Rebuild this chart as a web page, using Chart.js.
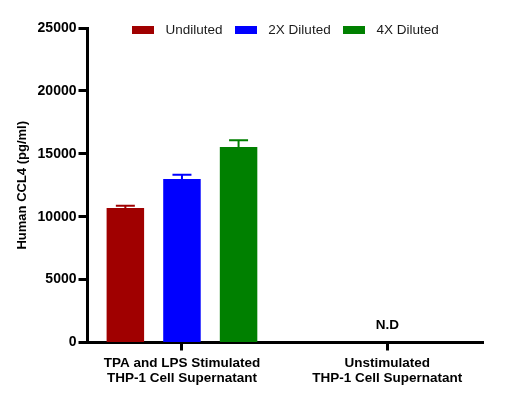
<!DOCTYPE html>
<html>
<head>
<meta charset="utf-8">
<script src="https://cdn.jsdelivr.net/npm/chart.js@4"></script>
<style>
  html, body { margin: 0; padding: 0; background: #fff; }
  #wrap { width: 528px; height: 410px; position: relative; }
</style>
</head>
<body>
<div id="wrap"><canvas id="c" width="528" height="410"></canvas></div>
<script>
// ---- data ----
const categories = [
  ['TPA and LPS Stimulated', 'THP-1 Cell Supernatant'],
  ['Unstimulated', 'THP-1 Cell Supernatant']
];
const seriesNames = ['Undiluted', '2X Diluted', '4X Diluted'];
const undiluted = [10700, null];
const diluted2x = [13000, null];
const diluted4x = [15550, null];
const undilutedErr = [170, null];
const diluted2xErr = [340, null];
const diluted4xErr = [520, null];
const yMin = 0, yMax = 25000, yStep = 5000;
const yTitle = 'Human CCL4 (pg/ml)';
const notDetectedText = 'N.D';
const notDetectedCategory = 1;

const colors = ['#a00000', '#0000ff', '#008000'];
const FONT = "'Liberation Sans', Arial, sans-serif";

function swatch(color) {
  const c = document.createElement('canvas');
  c.width = 22; c.height = 8;
  const g = c.getContext('2d');
  g.fillStyle = color; g.fillRect(0, 0, 22, 8);
  return c;
}
const swatches = colors.map(swatch);

const errorBars = {
  id: 'errorBars',
  afterDatasetsDraw(chart) {
    const ctx = chart.ctx;
    const ys = chart.scales.y;
    chart.data.datasets.forEach((ds, di) => {
      const meta = chart.getDatasetMeta(di);
      meta.data.forEach((bar, i) => {
        const v = ds.data[i], e = ds.errors[i];
        if (v == null || e == null) return;
        const yTop = ys.getPixelForValue(v + e);
        ctx.save();
        ctx.strokeStyle = ds.backgroundColor;
        ctx.lineWidth = 2;
        ctx.beginPath();
        ctx.moveTo(bar.x, bar.y);
        ctx.lineTo(bar.x, yTop);
        ctx.moveTo(bar.x - 9.5, yTop);
        ctx.lineTo(bar.x + 9.5, yTop);
        ctx.stroke();
        ctx.restore();
      });
    });
  }
};

const ndPlugin = {
  id: 'ndLabel',
  afterDraw(chart) {
    const ctx = chart.ctx;
    ctx.save();
    ctx.font = 'bold 13.5px ' + FONT;
    ctx.fillStyle = '#000';
    ctx.textAlign = 'center';
    ctx.textBaseline = 'middle';
    ctx.fillText(notDetectedText, chart.scales.x.getPixelForValue(notDetectedCategory),
                 chart.scales.y.getPixelForValue(0) - 17);
    ctx.restore();
  }
};

const legendFix = {
  id: 'legendFix',
  afterInit(chart) {
    const lg = chart.legend;
    if (!lg) return;
    const f = lg.fit;
    lg.fit = function () { f.call(this); this.height = 0; };
  },
  afterLayout(chart) {
    const lg = chart.legend;
    if (lg) {
      lg.top = 15.5; lg.bottom = 48; lg.height = 32.5;
      lg.left -= 2; lg.right -= 2;
    }
  }
};

new Chart(document.getElementById('c'), {
  type: 'bar',
  data: {
    labels: categories,
    datasets: [
      { label: seriesNames[0], data: undiluted, errors: undilutedErr, backgroundColor: colors[0] },
      { label: seriesNames[1], data: diluted2x, errors: diluted2xErr, backgroundColor: colors[1] },
      { label: seriesNames[2], data: diluted4x, errors: diluted4xErr, backgroundColor: colors[2] }
    ]
  },
  options: {
    responsive: false,
    animation: false,
    devicePixelRatio: 1,
    categoryPercentage: 0.827,
    barPercentage: 0.6625,
    layout: { padding: { top: 28, left: 0, right: 45, bottom: 0 } },
    plugins: {
      tooltip: { enabled: false },
      legend: {
        position: 'top',
        fullSize: false,
        align: 'center',
        labels: {
          usePointStyle: true,
          pointStyleWidth: 31,
          padding: 8,
          color: '#1a1a1a',
          font: { family: FONT, size: 13.5 },
          generateLabels(chart) {
            return Chart.defaults.plugins.legend.labels.generateLabels(chart)
              .map((it, i) => Object.assign(it, { pointStyle: swatches[i], lineWidth: 0 }));
          }
        }
      }
    },
    scales: {
      x: {
        type: 'category',
        offset: true,
        afterBuildTicks(s) { s._startValue = -0.46; s._valueRange = 1.926; },
        afterFit(s) { s.height = 67.5; },
        grid: { display: true, offset: false, drawOnChartArea: false, drawTicks: true,
                tickLength: 8, tickWidth: 3, tickColor: '#000' },
        border: { display: true, width: 3, color: '#000' },
        ticks: { color: '#000', padding: 5, maxRotation: 0, autoSkip: false,
                 font: { family: FONT, size: 13.5, weight: 'bold', lineHeight: 1.111 } }
      },
      y: {
        min: yMin, max: yMax,
        afterFit(s) { s.width = 87.5; },
        grid: { display: true, drawOnChartArea: false, drawTicks: true,
                tickLength: 9, tickWidth: 3, tickColor: '#000' },
        border: { display: true, width: 3, color: '#000' },
        ticks: { stepSize: yStep, color: '#000', padding: 2,
                 callback: (v) => String(v),
                 font: { family: FONT, size: 14, weight: 'bold' } },
        title: { display: true, text: yTitle, color: '#000',
                 padding: { top: 15, bottom: 0 },
                 font: { family: FONT, size: 13, weight: 'bold' } }
      }
    }
  },
  plugins: [legendFix, errorBars, ndPlugin]
});
</script>
</body>
</html>
